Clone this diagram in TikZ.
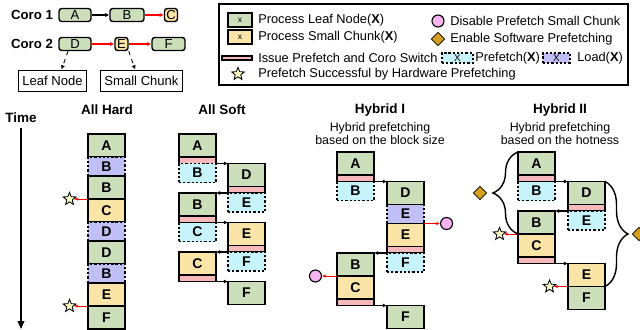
\documentclass[tikz,border=0pt]{standalone}
\usepackage{fontspec}
\setmainfont{Liberation Sans}
\usetikzlibrary{positioning,shapes.geometric,decorations.pathreplacing,arrows.meta}
\definecolor{leafgreen}{RGB}{204,222,186}
\definecolor{chunkyellow}{RGB}{250,228,168}
\definecolor{issuepink}{RGB}{246,184,186}
\definecolor{prefcyan}{RGB}{198,244,250}
\definecolor{loadpurple}{RGB}{192,192,246}
\definecolor{nopfpink}{RGB}{248,180,240}
\definecolor{swgold}{RGB}{212,160,32}
\definecolor{starfill}{RGB}{255,255,200}
\tikzset{
	blk/.style={draw, line width=1pt, inner sep=0pt, outer sep=0pt, minimum width=9.25mm, font=\fontsize{10}{12}\selectfont\bfseries},
	leaf/.style={blk, fill=leafgreen, minimum height=5.75mm},
	chunk/.style={blk, fill=chunkyellow, minimum height=5.75mm},
	issuebar/.style={blk, fill=issuepink, minimum height=1.625mm},
	prefbox/.style={blk, fill=prefcyan, minimum height=4.75mm, dash pattern=on 1.6pt off 1.4pt},
	loadbox/.style={blk, fill=loadpurple, minimum height=4.75mm, dash pattern=on 1.6pt off 1.4pt},
	hop/.style={line width=1pt, -{Latex[length=3pt,width=3pt]}},
	hit/.style={red, line width=0.6pt, -{Latex[length=2.5pt,width=2.5pt]}},
	hwstar/.style={star, star points=5, star point ratio=2.3, draw, fill=starfill, inner sep=0pt, minimum size=3.3mm, line width=0.6pt},
	nopf/.style={circle, draw, fill=nopfpink, inner sep=0pt, minimum size=3mm, line width=0.8pt},
	swpf/.style={diamond, draw, fill=swgold, inner sep=0pt, minimum size=3.4mm, line width=0.6pt},
	bracket/.style={decorate, decoration={brace, amplitude=6.25mm}, line width=1pt},
	coro/.style={draw, rounded corners=2pt, line width=1pt, minimum height=3.25mm, minimum width=3.25mm, inner sep=1pt, font=\fontsize{9.3}{11}\selectfont},
	tag/.style={draw, line width=0.7pt, minimum height=5.25mm, inner xsep=2.5pt, font=\fontsize{9.3}{11}\selectfont},
	legtext/.style={anchor=west, inner sep=0pt, font=\fontsize{9.1}{11}\selectfont},
	title/.style={font=\fontsize{9.6}{11}\selectfont\bfseries},
	sub/.style={align=center, font=\fontsize{8.8}{9.3}\selectfont}
}

\begin{document}
\begin{tikzpicture}[x=0.25mm, y=-0.25mm]
			%%%%% START %%%%%
			\useasboundingbox (0,0) rectangle (640,330);
			
			\node[font=\fontsize{9.4}{11}\selectfont\bfseries] (lc1) at (32,15) {Coro 1};
			\node[coro, fill=leafgreen, minimum width=8mm] (tA) at (75,15) {A};
			\node[coro, fill=leafgreen, minimum width=8.5mm] (tB) at (127,15) {B};
			\node[coro, fill=chunkyellow] (tC) at (171,15) {C};
			\draw[hop] (tA) -- (tB);
			\draw[hop, red] (tB) -- (tC);
			
			\node[font=\fontsize{9.4}{11}\selectfont\bfseries] (lc2) at (32,44) {Coro 2};
			\node[coro, fill=leafgreen, minimum width=8mm] (tD) at (75,44) {D};
			\node[coro, fill=chunkyellow] (tE) at (121.5,44) {E};
			\node[coro, fill=leafgreen, minimum width=8.25mm] (tF) at (168.5,44) {F};
			\draw[hop, red] (tD) -- (tE);
			\draw[hop, red] (tE) -- (tF);
			
			\node[tag] (tagLeaf) at (52.5,80.5) {Leaf Node};
			\node[tag] (tagChunk) at (141.5,80.5) {Small Chunk};
			\draw[dashed, line width=0.6pt, -{Latex[length=3pt,width=3pt]}] ([xshift=-1.75mm]tD.south) -- ([xshift=2.25mm]tagLeaf.north);
			\draw[dashed, line width=0.6pt, -{Latex[length=3pt,width=3pt]}] (tE.south east) -- ([xshift=-1.6mm]tagChunk.north);
			
			\draw[line width=0.8pt] (219,4) rectangle (628,85);
			\node[blk, fill=leafgreen, line width=0.8pt, minimum width=6mm, minimum height=3.5mm, font=\fontsize{6}{7}\selectfont] (kLeaf) at (240,20) {x};
			\node[legtext] (xLeaf) at (258,20) {Process Leaf Node(\textbf{X})};
			\node[blk, fill=chunkyellow, line width=0.8pt, minimum width=6mm, minimum height=3.5mm, font=\fontsize{6}{7}\selectfont] (kChunk) at (240,37) {x};
			\node[legtext] (xChunk) at (258,37) {Process Small Chunk(\textbf{X})};
			\node[issuebar, minimum width=7.5mm, minimum height=1mm] (kIssue) at (237,58) {};
			\node[legtext] (xIssue) at (258,58) {Issue Prefetch and Coro Switch};
			\node[hwstar] (kStar) at (238,74) {};
			\node[legtext] (xStar) at (258,74) {Prefetch Successful by Hardware Prefetching};
			\node[nopf] (kNopf) at (438,21) {};
			\node[legtext] (xNopf) at (450,21) {Disable Prefetch Small Chunk};
			\node[swpf] (kSw) at (438,39) {};
			\node[legtext] (xSw) at (450,39) {Enable Software Prefetching};
			\node[prefbox, minimum width=7.75mm, minimum height=2.5mm, font=\fontsize{7}{8}\selectfont] (kPref) at (457.5,58) {X};
			\node[legtext] (xPref) at (475,58) {Prefetch(\textbf{X})};
			\node[loadbox, minimum width=6.75mm, minimum height=2.5mm, font=\fontsize{7}{8}\selectfont] (kLoad) at (556.5,58) {X};
			\node[legtext] (xLoad) at (577,58) {Load(\textbf{X})};
			
			\node[title] (time) at (21,118) {Time};
			\coordinate (timeEnd) at (21,329);
			\draw[line width=1pt, -{Triangle[length=2mm,width=1.7mm]}] (time.south) -- (timeEnd);
			
			% all hard
			\node[title] (ttHard) at (107,110) {All Hard};
			\node[leaf, anchor=north west] (hdA) at (88,134) {A};
			\node[loadbox, below=0pt of hdA] (hdB0) {B};
			\node[leaf, below=0pt of hdB0] (hdB) {B};
			\node[chunk, below=0pt of hdB] (hdC) {C};
			\node[loadbox, below=0pt of hdC] (hdD0) {D};
			\node[leaf, below=0pt of hdD0] (hdD) {D};
			\node[loadbox, below=0pt of hdD] (hdB1) {B};
			\node[chunk, below=0pt of hdB1] (hdE) {E};
			\node[leaf, below=0pt of hdE] (hdF) {F};
			\node[hwstar, left=3.5mm of hdC.north west] (hdS1) {};
			\node[hwstar, left=3.5mm of hdF.north west] (hdS2) {};
			\draw[hit] (hdC.north west) -- (hdS1);
			\draw[hit] (hdF.north west) -- (hdS2);
			
			% all soft
			\node[title] (ttSoft) at (222,110) {All Soft};
			\node[leaf, anchor=north west] (sfA) at (179,134) {A};
			\node[issuebar, below=0pt of sfA] (sfA1) {};
			\node[prefbox, below=0pt of sfA1] (sfB0) {B};
			\node[leaf, anchor=north west] (sfD) at ([xshift=3mm]sfA1.south east) {D};
			\node[issuebar, below=0pt of sfD] (sfD1) {};
			\node[prefbox, below=0pt of sfD1] (sfE0) {E};
			\node[leaf, anchor=north east] (sfB) at ([xshift=-3mm]sfD1.south west) {B};
			\node[issuebar, below=0pt of sfB] (sfB1) {};
			\node[prefbox, below=0pt of sfB1] (sfC0) {C};
			\node[chunk, anchor=north west] (sfE) at ([xshift=3mm]sfB1.south east) {E};
			\node[issuebar, below=0pt of sfE] (sfE1) {};
			\node[prefbox, below=0pt of sfE1] (sfF0) {F};
			\node[chunk, anchor=north east] (sfC) at ([xshift=-3mm]sfE1.south west) {C};
			\node[issuebar, below=0pt of sfC] (sfC1) {};
			\node[leaf, anchor=north west] (sfF) at ([xshift=3mm]sfC1.south east) {F};
			\draw[hop] (sfA1.south east) -- (sfD.north west);
			\draw[hop] (sfD1.south west) -- (sfB.north east);
			\draw[hop] (sfB1.south east) -- (sfE.north west);
			\draw[hop] (sfE1.south west) -- (sfC.north east);
			\draw[hop] (sfC1.south east) -- (sfF.north west);
			
			% hybrid I
			\node[title] (ttHyb1) at (380,110) {Hybrid I};
			\node[sub] (sbHyb1) at (380,133.5) {Hybrid prefetching\\based on the block size};
			\node[leaf, anchor=north west] (hyA) at (337,152) {A};
			\node[issuebar, below=0pt of hyA] (hyA1) {};
			\node[prefbox, below=0pt of hyA1] (hyB0) {B};
			\node[leaf, anchor=north west] (hyD) at ([xshift=3.25mm]hyA1.south east) {D};
			\node[loadbox, below=0pt of hyD] (hyE0) {E};
			\node[chunk, below=0pt of hyE0] (hyE) {E};
			\node[issuebar, below=0pt of hyE] (hyE1) {};
			\node[prefbox, below=0pt of hyE1] (hyF0) {F};
			\node[leaf, anchor=north east] (hyB) at ([xshift=-3.25mm]hyE1.south west) {B};
			\node[chunk, below=0pt of hyB] (hyC) {C};
			\node[issuebar, below=0pt of hyC] (hyC1) {};
			\node[leaf, anchor=north west] (hyF) at ([xshift=3.25mm]hyC1.south east) {F};
			\draw[hop] (hyA1.south east) -- (hyD.north west);
			\draw[hop] (hyE1.south west) -- (hyB.north east);
			\draw[hop] (hyC1.south east) -- (hyF.north west);
			\node[nopf, right=4mm of hyE.north east] (hyX1) {};
			\node[nopf, left=3.75mm of hyC.north west] (hyX2) {};
			\draw[hit] (hyE.north east) -- (hyX1);
			\draw[hit] (hyC.north west) -- (hyX2);
			
			% hybrid II
			\node[title] (ttHyb2) at (560,110) {Hybrid II};
			\node[sub] (sbHyb2) at (560,133.5) {Hybrid prefetching\\based on the hotness};
			\node[leaf, anchor=north west] (hhA) at (518,152) {A};
			\node[issuebar, below=0pt of hhA] (hhA1) {};
			\node[prefbox, below=0pt of hhA1] (hhB0) {B};
			\node[leaf, anchor=north west] (hhD) at ([xshift=3.25mm]hhA1.south east) {D};
			\node[issuebar, below=0pt of hhD] (hhD1) {};
			\node[prefbox, below=0pt of hhD1] (hhE0) {E};
			\node[leaf, anchor=north east] (hhB) at ([xshift=-3.25mm]hhD1.south west) {B};
			\node[chunk, below=0pt of hhB] (hhC) {C};
			\node[issuebar, below=0pt of hhC] (hhC1) {};
			\node[chunk, anchor=north west] (hhE) at ([xshift=3.25mm]hhC1.south east) {E};
			\node[leaf, below=0pt of hhE] (hhF) {F};
			\draw[hop] (hhA1.south east) -- (hhD.north west);
			\draw[hop] (hhD1.south west) -- (hhB.north east);
			\draw[hop] (hhC1.south east) -- (hhE.north west);
			\node[hwstar, left=3.5mm of hhC.north west] (hhS1) {};
			\node[hwstar, left=3.5mm of hhF.north west] (hhS2) {};
			\draw[hit] (hhC.north west) -- (hhS1);
			\draw[hit] (hhF.north west) -- (hhS2);
			\draw[bracket] (hhB.south west) -- (hhA.north west);
			\draw[bracket, decoration={amplitude=5.75mm}] (hhD.north east) -- (hhE.south east);
			\node[swpf] (hhW1) at (480,193) {};
			\node[swpf] (hhW2) at (639,234) {};
			
			%%%%% END %%%%%
\end{tikzpicture}
\end{document}
